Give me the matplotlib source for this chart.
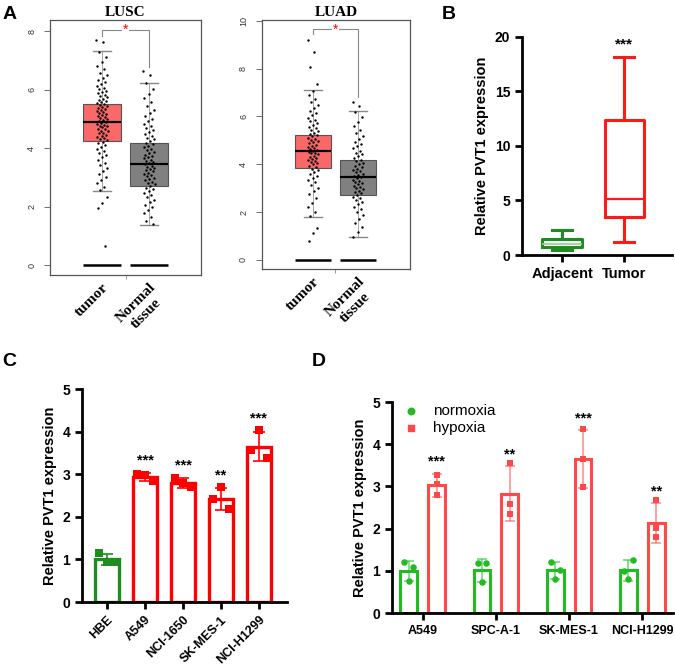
import matplotlib.pyplot as plt
import numpy as np

plt.rcParams['font.family'] = ['Liberation Sans', 'DejaVu Sans']

# ---- panel A (GEPIA boxplots) ----
lusc_tumor = [7.69, 7.63, 7.28, 7.12, 6.95, 6.81, 6.72, 6.58, 6.49, 6.41, 6.33, 6.27, 6.19, 6.12,
              6.06, 6.01, 5.96, 5.91, 5.87, 5.82, 5.78, 5.74, 5.69, 5.66, 5.62, 5.58, 5.55, 5.51,
              5.47, 5.44, 5.41, 5.37, 5.33, 5.3, 5.26, 5.23, 5.19, 5.16, 5.12, 5.09, 5.05, 5.02,
              4.98, 4.95, 4.92, 4.89, 4.86, 4.83, 4.8, 4.77, 4.74, 4.71, 4.67, 4.64, 4.6, 4.57,
              4.53, 4.5, 4.46, 4.42, 4.38, 4.34, 4.3, 4.26, 4.21, 4.16, 4.11, 4.05, 3.98, 3.91,
              3.84, 3.76, 3.68, 3.59, 3.5, 3.41, 3.32, 3.22, 3.12, 3.01, 2.9, 2.79, 2.68, 2.58,
              2.33, 2.13, 1.96, 0.66]
lusc_normal = [6.63, 6.5, 6.21, 6.02, 5.85, 5.7, 5.56, 5.43, 5.31, 5.2, 5.1, 5.01, 4.92, 4.84,
               4.76, 4.69, 4.62, 4.55, 4.48, 4.42, 4.36, 4.3, 4.24, 4.18, 4.13, 4.08, 4.03, 3.98,
               3.93, 3.88, 3.83, 3.78, 3.74, 3.69, 3.65, 3.6, 3.56, 3.52, 3.48, 3.44, 3.4, 3.36,
               3.32, 3.28, 3.24, 3.2, 3.16, 3.12, 3.08, 3.03, 2.99, 2.94, 2.9, 2.85, 2.8, 2.76,
               2.71, 2.65, 2.59, 2.53, 2.46, 2.39, 2.32, 2.24, 2.16, 2.07, 1.98, 1.88, 1.77, 1.65,
               1.52, 1.4]
luad_tumor = [9.19, 8.69, 8.06, 7.35, 7.08, 6.9, 6.74, 6.6, 6.47, 6.35, 6.24, 6.14, 6.04, 5.95,
              5.87, 5.79, 5.71, 5.64, 5.57, 5.5, 5.44, 5.38, 5.32, 5.26, 5.21, 5.16, 5.11, 5.06,
              5.01, 4.96, 4.91, 4.87, 4.82, 4.78, 4.74, 4.69, 4.65, 4.61, 4.57, 4.53, 4.49, 4.45,
              4.41, 4.36, 4.32, 4.28, 4.23, 4.19, 4.14, 4.09, 4.04, 3.99, 3.94, 3.88, 3.82, 3.75,
              3.68, 3.6, 3.52, 3.43, 3.34, 3.24, 3.13, 3.01, 2.88, 2.74, 2.58, 2.4, 2.21, 2.0,
              1.82, 1.34, 1.14, 0.79]
luad_normal = [6.6, 6.45, 6.2, 5.98, 5.78, 5.6, 5.45, 5.31, 5.18, 5.06, 4.95, 4.85, 4.75, 4.66,
               4.57, 4.49, 4.41, 4.33, 4.26, 4.19, 4.12, 4.06, 4.0, 3.94, 3.88, 3.82, 3.77, 3.71,
               3.66, 3.61, 3.56, 3.51, 3.46, 3.41, 3.36, 3.31, 3.26, 3.21, 3.16, 3.11, 3.06, 3.01,
               2.95, 2.9, 2.84, 2.78, 2.72, 2.65, 2.58, 2.5, 2.42, 2.33, 2.23, 2.12, 2.0, 1.87,
               1.72, 1.55, 1.36, 1.15, 0.97]

a_groups = ['tumor', 'Normal\ntissue']
lusc_med = [4.88, 3.47]
lusc_q1 = [4.25, 2.72]
lusc_q3 = [5.5, 4.18]
lusc_lo = [2.55, 1.38]
lusc_hi = [7.32, 6.22]
luad_med = [4.55, 3.46]
luad_q1 = [3.85, 2.70]
luad_q3 = [5.22, 4.17]
luad_lo = [1.81, 0.96]
luad_hi = [7.10, 6.22]
zero_vals = [0, 0]

# ---- panel B ----
b_groups = ['Adjacent', 'Tumor']
b_med = [1.01, 5.1]
b_q1 = [0.76, 3.45]
b_q3 = [1.44, 12.4]
b_lo = [0.43, 1.16]
b_hi = [2.29, 18.1]

# ---- panel C ----
c_lines = ['HBE', 'A549', 'NCI-1650', 'SK-MES-1', 'NCI-H1299']
c_mean = [1.0, 2.93, 2.79, 2.42, 3.65]
c_sd = [0.12, 0.10, 0.11, 0.26, 0.35]
c_pts = [[1.16, 0.93, 0.93], [3.0, 2.98, 2.85], [2.92, 2.79, 2.71],
         [2.41, 2.71, 2.19], [3.57, 4.03, 3.37]]
c_sig = ['', '***', '***', '**', '***']

# ---- panel D ----
d_lines = ['A549', 'SPC-A-1', 'SK-MES-1', 'NCI-H1299']
d_norm_mean = [1.0, 1.01, 1.01, 1.01]
d_norm_sd = [0.24, 0.27, 0.21, 0.24]
d_norm_pts = [[1.22, 1.09, 0.77], [1.18, 1.18, 0.73], [1.21, 1.03, 0.8], [0.99, 1.26, 0.81]]
d_hyp_mean = [3.03, 2.83, 3.65, 2.14]
d_hyp_sd = [0.27, 0.65, 0.68, 0.47]
d_hyp_pts = [[3.26, 3.06, 2.79], [3.56, 2.59, 2.35], [4.36, 3.64, 2.99], [2.68, 2.02, 1.79]]
d_sig = ['***', '**', '***', '**']

fig = plt.figure(figsize=(6.75, 6.69), dpi=100)

serif = ['Liberation Serif', 'DejaVu Serif']


def gepia(ax, pts, med, q1, q3, lo, hi, title, ymax, yticks, br):
    stats = [dict(med=med[i], q1=q1[i], q3=q3[i], whislo=lo[i], whishi=hi[i]) for i in range(2)]
    bp = ax.bxp(stats, positions=[1, 2], widths=0.81, patch_artist=True, showfliers=False,
                capwidths=0.4,
                boxprops=dict(edgecolor='#555555', linewidth=0.8),
                whiskerprops=dict(color='#999999', linewidth=0.6),
                capprops=dict(color='#888888', linewidth=1.0),
                medianprops=dict(color='black', linewidth=1.5))
    for patch, c in zip(bp['boxes'], ['#FA6868', '#808080']):
        patch.set_facecolor(c)
    for i, vals in enumerate(pts):
        n = len(vals)
        off = ((np.arange(n) * 0.618034) % 1 - 0.5) * 0.24
        ax.scatter(i + 1 + off, vals, s=3, color='black', zorder=3, linewidths=0)
    for i in range(2):
        ax.hlines(med[i], i + 1 - 0.405, i + 1 + 0.405, color='black', lw=1.5, zorder=4)
        ax.hlines(zero_vals[i], i + 1 - 0.405, i + 1 + 0.405, color='black', lw=1.8, zorder=4)
    top, left_end, right_end = br
    ax.plot([1, 1, 2, 2], [left_end, top, top, right_end], color='#888888', lw=0.8)
    ax.text(1.5, top, '*', color='red', ha='center', va='center', fontsize=10,
            bbox=dict(facecolor='white', edgecolor='none', pad=0.5))
    ax.set_ylim(ymax[0], ymax[1])
    ax.set_yticks(yticks)
    ax.set_yticklabels([str(t) for t in yticks], rotation=90, va='center', fontsize=6.5,
                       color='#333333')
    ax.tick_params(axis='y', length=4, width=0.6, color='#555555', pad=6)
    ax.set_xticks([1, 2])
    ax.set_xticklabels(a_groups, rotation=45, ha='right', rotation_mode='anchor',
                       family=serif, fontweight='bold', fontsize=11, multialignment='center')
    ax.tick_params(axis='x', length=0, pad=4)
    ax.set_xticks([1.5], minor=True)
    ax.tick_params(axis='x', which='minor', length=3, width=0.6, color='#888888')
    for s in ax.spines.values():
        s.set_color('#555555')
        s.set_linewidth(0.9)
    ax.set_title(title, family=serif, fontweight='bold', fontsize=11, pad=3)


ax1 = fig.add_axes([0.0741, 0.5889, 0.2237, 0.3812])
gepia(ax1, [lusc_tumor, lusc_normal], lusc_med, lusc_q1, lusc_q3, lusc_lo, lusc_hi,
      'LUSC', (-0.34, 8.38), [0, 2, 4, 6, 8], (8.05, 7.85, 6.77))
ax1.set_xlim(-0.106, 3.106)

ax2 = fig.add_axes([0.3881, 0.5979, 0.2193, 0.3722])
gepia(ax2, [luad_tumor, luad_normal], luad_med, luad_q1, luad_q3, luad_lo, luad_hi,
      'LUAD', (-0.38, 10.03), [0, 2, 4, 6, 8, 10], (9.64, 9.44, 6.82))
ax2.set_xlim(-0.133, 3.155)


def prism(ax, ylim, yticks):
    for s in ['top', 'right']:
        ax.spines[s].set_visible(False)
    for s in ['left', 'bottom']:
        ax.spines[s].set_linewidth(2)
    ax.set_ylim(*ylim)
    ax.set_yticks(yticks)
    ax.tick_params(axis='both', width=2, length=5, labelsize=10)
    for lab in ax.get_yticklabels() + ax.get_xticklabels():
        lab.set_fontweight('bold')
    ax.set_ylabel('Relative PVT1 expression', fontsize=10.5, fontweight='bold')


# ---- B ----
ax3 = fig.add_axes([0.7733, 0.6188, 0.2222, 0.3263])
b_cols = ['#1E8C1E', '#FF1A1A']
stats = [dict(med=b_med[i], q1=b_q1[i], q3=b_q3[i], whislo=b_lo[i], whishi=b_hi[i]) for i in range(2)]
bp = ax3.bxp(stats, positions=[1, 2], widths=0.63, showfliers=False, capwidths=0.33)
for i, c in enumerate(b_cols):
    bp['boxes'][i].set(color=c, linewidth=2.2)
    bp['medians'][i].set(color=c if i == 1 else '#8FCF8F', linewidth=1.6 if i == 1 else 1.2)
    for k in (2 * i, 2 * i + 1):
        bp['whiskers'][k].set(color=c, linewidth=2.2)
        bp['caps'][k].set(color=c, linewidth=2.2)
ax3.text(2, 19.3, '***', ha='center', va='center', fontsize=11, fontweight='bold')
ax3.set_xlim(0.355, 2.77)
ax3.set_xticks([1, 2])
ax3.set_xticklabels(b_groups)
prism(ax3, (0, 20), [0, 5, 10, 15, 20])
ax3.tick_params(axis='x', labelsize=10.5)
ax3.spines['left'].set_bounds(0, 20)

# ---- C ----
ax4 = fig.add_axes([0.1215, 0.1001, 0.3037, 0.3184])
c_cols = ['#1E8C1E', '#FF0000', '#FF0000', '#FF0000', '#FF0000']
c_off = [-0.21, 0.0, 0.21]
xc = np.arange(len(c_lines))
for i in range(len(c_lines)):
    ax4.bar(xc[i], c_mean[i], width=0.63, facecolor='white', edgecolor=c_cols[i], linewidth=2.4,
            zorder=2)
    ax4.errorbar(xc[i], c_mean[i], yerr=c_sd[i], fmt='none', ecolor=c_cols[i], elinewidth=1.2,
                 capsize=4, capthick=1.2, zorder=3)
    ax4.scatter(xc[i] + np.array(c_off), c_pts[i], marker='s', s=28, color=c_cols[i], zorder=4,
                linewidths=0)
    if c_sig[i]:
        ax4.text(xc[i], c_mean[i] + c_sd[i] + 0.3, c_sig[i], ha='center', va='center',
                 fontsize=10.5, fontweight='bold')
ax4.set_xlim(-0.66, 4.74)
ax4.set_xticks(xc)
ax4.set_xticklabels(c_lines, rotation=45, ha='right', rotation_mode='anchor')
prism(ax4, (0, 5), [0, 1, 2, 3, 4, 5])
ax4.tick_params(axis='x', labelsize=9)

# ---- D ----
ax5 = fig.add_axes([0.5807, 0.0837, 0.4163, 0.3154])
g_col, r_col = '#22BB22', '#FF4848'
xd = np.arange(len(d_lines))
n_off = [-0.06, 0.06, 0.0]
h_off = [0.0, 0.0, 0.0]
for i in range(len(d_lines)):
    for xx, m, sd, pts, col, off, mk in [
            (xd[i] - 0.19, d_norm_mean[i], d_norm_sd[i], d_norm_pts[i], g_col, n_off, 'o'),
            (xd[i] + 0.19, d_hyp_mean[i], d_hyp_sd[i], d_hyp_pts[i], r_col, h_off, 's')]:
        ax5.bar(xx, m, width=0.23, facecolor='white', edgecolor=col, linewidth=2.2, zorder=2)
        ax5.errorbar(xx, m, yerr=sd, fmt='none', ecolor=col, alpha=0.6, elinewidth=1.2,
                     capsize=3.5, capthick=1.2, zorder=3)
        ax5.scatter(xx + np.array(off), pts, marker=mk, s=22, color=col, zorder=4, linewidths=0)
    ax5.text(xd[i] + 0.19, d_hyp_mean[i] + d_hyp_sd[i] + 0.28, d_sig[i], ha='center',
             va='center', fontsize=10.5, fontweight='bold')
ax5.scatter([], [], marker='o', s=22, color=g_col, label='normoxia')
ax5.scatter([], [], marker='s', s=22, color=r_col, label='hypoxia')
ax5.legend(loc='upper left', bbox_to_anchor=(-0.01, 1.02), frameon=False, fontsize=11,
           handletextpad=0.5, labelspacing=0.2, borderaxespad=0)
ax5.set_xlim(-0.42, 3.42)
ax5.set_xticks(xd)
ax5.set_xticklabels(d_lines)
prism(ax5, (0, 5), [0, 1, 2, 3, 4, 5])
ax5.tick_params(axis='x', labelsize=9)

for letter, x, y in [('A', 0.004, 0.978), ('B', 0.655, 0.978), ('C', 0.004, 0.459),
                     ('D', 0.462, 0.459)]:
    fig.text(x, y, letter, fontsize=14, fontweight='bold', va='center', ha='left')

fig.savefig('out.png', dpi=100)
